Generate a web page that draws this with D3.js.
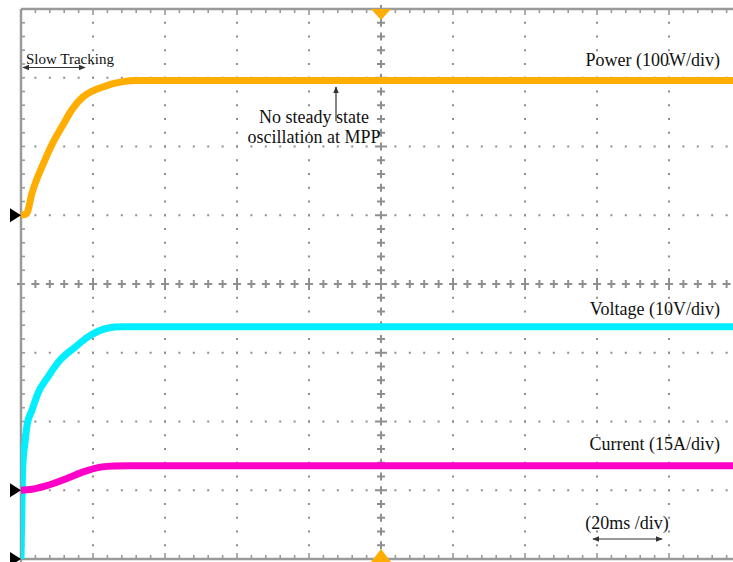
<!DOCTYPE html>
<html><head><meta charset="utf-8">
<script src="https://cdn.jsdelivr.net/npm/d3@7"></script>
<style>
html,body{margin:0;padding:0;background:#fff;}
svg{display:block;}
</style></head>
<body>
<svg id="c" width="733" height="562"></svg>
<script>
// ---- data (time in ms, 20 ms/div) ----
const powerT = [0, 1.5, 3.1, 6.7, 8.9, 11.4, 14.2, 17.2, 20, 23, 25.3, 28, 32, 60, 100, 140, 200];
const powerW = [0, 2, 33, 81, 106, 129, 154, 172, 181, 187, 191, 194, 196, 196, 196, 196, 196];
const voltT = [0, 0.4, 0.6, 1.1, 1.7, 3.1, 4.7, 7.5, 10.8, 15, 18.6, 24.2, 28, 60, 100, 140, 200];
const voltV = [0, 12, 14.5, 16.9, 19.5, 21.7, 24.1, 26.5, 28.9, 30.8, 32.3, 33.6, 33.8, 33.8, 33.8, 33.8, 33.8];
const currT = [0, 3, 6.7, 12.2, 16.9, 22.5, 26, 30, 60, 100, 140, 200];
const currA = [0, 0.2, 0.9, 2.4, 3.9, 5.1, 5.3, 5.35, 5.35, 5.35, 5.35, 5.35];
const channelLabels = ["Power (100W/div)", "Voltage (10V/div)", "Current (15A/div)"];
const perDiv = [100, 10, 15];      // units per division
const groundDiv = [5, 0, 1];       // ground reference level (divisions from bottom)
const timeLabel = "(20ms /div)";
const noteLines = ["No steady state", "oscillation at MPP"];
const slowLabel = "Slow Tracking";

const FONT = "'Liberation Serif', 'Times New Roman', Times, serif";
const svg = d3.select("#c");
const x = d3.scaleLinear().domain([0, 200]).range([21, 741]);   // 10 divisions
const yDiv = d3.scaleLinear().domain([0, 8]).range([559, 9]);   // 8 divisions
const gridCol = "#8f8f8f";

// graticule dots
const g = svg.append("g");
const minorX = d3.range(0, 200.001, 4);     // 0.2 div steps in ms
const minorY = d3.range(0, 8.001, 0.2);
const vDivs = d3.range(1, 10).filter(d => d !== 5);
const hDivs = d3.range(1, 8).filter(d => d !== 4);
vDivs.forEach(dv => {
  g.selectAll(null).data(minorY).enter().append("rect")
    .attr("x", x(dv * 20) - 1).attr("y", d => yDiv(d) - 1)
    .attr("width", 2).attr("height", 2).attr("fill", gridCol);
});
hDivs.forEach(dh => {
  g.selectAll(null).data(minorX).enter().append("rect")
    .attr("x", d => x(d) - 1).attr("y", yDiv(dh) - 1)
    .attr("width", 2).attr("height", 2).attr("fill", gridCol);
});
// center crosses
function cross(cx, cy, a, b) {
  g.append("path").attr("d", `M${cx - a},${cy}H${cx + a}M${cx},${cy - b}V${cy + b}`)
    .attr("stroke", gridCol).attr("stroke-width", 2).attr("fill", "none");
}
minorX.forEach(t => {
  const major = Math.abs(t / 20 - Math.round(t / 20)) < 1e-6;
  cross(x(t), yDiv(4), 4, major ? 6 : 4);
});
minorY.forEach(d => {
  const major = Math.abs(d - Math.round(d)) < 1e-6;
  cross(x(100), yDiv(d), major ? 6 : 4, 4);
});
// frame
const fr = svg.append("g");
fr.append("line").attr("x1", x(0)).attr("x2", 741).attr("y1", yDiv(8)).attr("y2", yDiv(8))
  .attr("stroke", "#9a9a9a").attr("stroke-width", 2.5);
fr.append("line").attr("x1", x(0)).attr("x2", 741).attr("y1", yDiv(0)).attr("y2", yDiv(0))
  .attr("stroke", "#9a9a9a").attr("stroke-width", 2.5);
fr.append("line").attr("x1", x(0)).attr("x2", x(0)).attr("y1", yDiv(8)).attr("y2", 562)
  .attr("stroke", "#9a9a9a").attr("stroke-width", 2.5);
minorX.forEach(t => {
  const major = Math.abs(t / 20 - Math.round(t / 20)) < 1e-6;
  const L = major ? 6 : 4;
  fr.append("path").attr("d", `M${x(t)},${yDiv(8)}v${L}M${x(t)},${yDiv(0)}v${-L}`)
    .attr("stroke", "#9a9a9a").attr("stroke-width", 1.6);
});
minorY.forEach(d => {
  fr.append("path").attr("d", `M${x(0)},${yDiv(d)}h4`)
    .attr("stroke", "#9a9a9a").attr("stroke-width", 1.6);
});

// traces
const traces = [
  {t: powerT, v: powerW, col: "#ffad00", i: 0},
  {t: voltT, v: voltV, col: "#00eeff", i: 1},
  {t: currT, v: currA, col: "#ff00c8", i: 2}
];
svg.append("clipPath").attr("id", "cp").append("rect")
  .attr("x", x(0)).attr("y", 0).attr("width", 733).attr("height", yDiv(0) + 1);
traces.forEach(tr => {
  const pts = tr.t.map((t, k) => [t, tr.v[k]]);
  const line = d3.line()
    .x(d => x(d[0]))
    .y(d => yDiv(groundDiv[tr.i] + d[1] / perDiv[tr.i]))
    .curve(d3.curveMonotoneX);
  svg.append("path").datum(pts).attr("d", line)
    .attr("clip-path", "url(#cp)")
    .attr("fill", "none").attr("stroke", tr.col).attr("stroke-width", 7)
    .attr("stroke-linejoin", "round");
});

// ground markers
groundDiv.forEach(gd => {
  const yy = yDiv(gd);
  svg.append("path").attr("d", `M${x(0)},${yy}L${x(0) - 11},${yy - 7}L${x(0) - 11},${yy + 7}Z`).attr("fill", "#000");
});
// trigger markers
svg.append("path").attr("d", `M${x(100) - 10},${yDiv(8)}L${x(100) + 10},${yDiv(8)}L${x(100)},${yDiv(8) + 11}Z`).attr("fill", "#ffad00");
svg.append("path").attr("d", `M${x(100) - 10},${yDiv(0) + 3}L${x(100) + 10},${yDiv(0) + 3}L${x(100)},${yDiv(0) - 10}Z`).attr("fill", "#ffad00");

// arrow markers
const defs = svg.append("defs");
defs.append("marker").attr("id", "ah").attr("viewBox", "0 0 10 10").attr("refX", 9).attr("refY", 5)
  .attr("markerWidth", 6).attr("markerHeight", 6).attr("orient", "auto-start-reverse")
  .append("path").attr("d", "M0,1L10,5L0,9Z").attr("fill", "#333");

function txt(xx, yy, s, size, anchor) {
  return svg.append("text").attr("x", xx).attr("y", yy).attr("font-size", size)
    .attr("font-family", FONT).attr("fill", "#111")
    .attr("text-anchor", anchor || "start").text(s);
}
// labels
txt(26, 64, slowLabel, 15);
svg.append("line").attr("x1", 23).attr("x2", 85).attr("y1", 67.5).attr("y2", 67.5)
  .attr("stroke", "#333").attr("stroke-width", 1.2)
  .attr("marker-start", "url(#ah)").attr("marker-end", "url(#ah)");

const lblY = [66, 315, 450];
channelLabels.forEach((s, k) => txt(720, lblY[k], s, 18, "end"));
txt(314, 123, noteLines[0], 18, "middle");
txt(314, 143, noteLines[1], 18, "middle");
svg.append("line").attr("x1", 336).attr("x2", 336).attr("y1", 121).attr("y2", 87)
  .attr("stroke", "#333").attr("stroke-width", 1.2).attr("marker-end", "url(#ah)");

txt(627, 529, timeLabel, 18, "middle");
svg.append("line").attr("x1", 593).attr("x2", 662).attr("y1", 539).attr("y2", 539)
  .attr("stroke", "#333").attr("stroke-width", 1.2)
  .attr("marker-start", "url(#ah)").attr("marker-end", "url(#ah)");
</script>
</body></html>
